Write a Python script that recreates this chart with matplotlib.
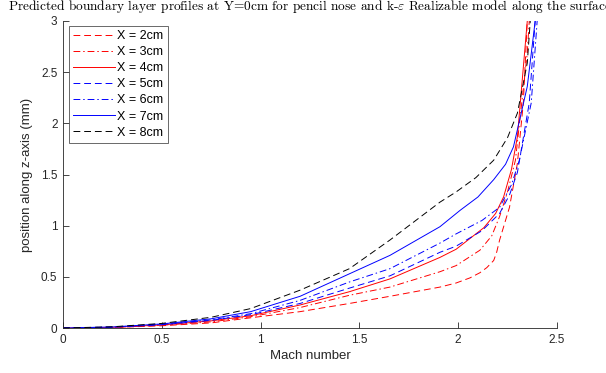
import matplotlib
matplotlib.use('Agg')
import matplotlib.pyplot as plt

plt.rcParams['font.family'] = ['Liberation Sans', 'DejaVu Sans']
plt.rcParams['mathtext.fontset'] = 'cm'

# Mach number / height pairs for each station along the surface
mach_2 = [0, 0.25, 0.5, 0.75, 0.95, 1.2, 1.45, 1.655, 1.908, 1.99, 2.06, 2.11, 2.145, 2.18, 2.195, 2.21, 2.26, 2.30, 2.33, 2.35]
z_2 = [0, 0.005, 0.022, 0.05, 0.10, 0.16, 0.24, 0.31, 0.40, 0.44, 0.49, 0.54, 0.59, 0.66, 0.74, 0.86, 1.18, 1.61, 2.2, 3.0]

mach_3 = [0, 0.25, 0.5, 0.75, 0.95, 1.2, 1.45, 1.655, 1.908, 1.99, 2.11, 2.17, 2.21, 2.25, 2.29, 2.35, 2.36]
z_3 = [0, 0.006, 0.027, 0.06, 0.11, 0.20, 0.32, 0.40, 0.55, 0.61, 0.76, 0.90, 1.09, 1.33, 1.64, 2.69, 3.0]

mach_4 = [0, 0.25, 0.5, 0.75, 0.95, 1.2, 1.45, 1.655, 1.908, 1.99, 2.13, 2.19, 2.23, 2.27, 2.30, 2.35]
z_4 = [0, 0.007, 0.03, 0.07, 0.12, 0.225, 0.355, 0.48, 0.69, 0.77, 0.98, 1.12, 1.28, 1.55, 1.87, 3.0]

mach_5 = [0, 0.25, 0.5, 0.75, 0.95, 1.2, 1.45, 1.655, 1.908, 1.99, 2.12, 2.21, 2.26, 2.30, 2.36, 2.39]
z_5 = [0, 0.008, 0.032, 0.075, 0.13, 0.24, 0.39, 0.51, 0.74, 0.80, 0.95, 1.12, 1.30, 1.52, 2.2, 3.0]

mach_6 = [0, 0.25, 0.5, 0.75, 0.95, 1.2, 1.45, 1.655, 1.908, 1.99, 2.12, 2.21, 2.27, 2.31, 2.37, 2.40]
z_6 = [0, 0.009, 0.035, 0.08, 0.14, 0.27, 0.45, 0.58, 0.83, 0.92, 1.05, 1.18, 1.40, 1.64, 2.2, 3.0]

mach_7 = [0, 0.25, 0.5, 0.75, 0.95, 1.2, 1.45, 1.655, 1.908, 2.01, 2.10, 2.18, 2.24, 2.28, 2.35, 2.39]
z_7 = [0, 0.01, 0.04, 0.09, 0.16, 0.31, 0.53, 0.71, 0.99, 1.15, 1.28, 1.45, 1.60, 1.77, 2.36, 3.0]

mach_8 = [0, 0.25, 0.5, 0.75, 0.95, 1.2, 1.45, 1.655, 1.908, 1.99, 2.09, 2.18, 2.25, 2.30, 2.35, 2.365]
z_8 = [0, 0.012, 0.045, 0.105, 0.19, 0.37, 0.58, 0.86, 1.23, 1.33, 1.47, 1.64, 1.86, 2.10, 2.59, 3.0]

labels = ['X = 2cm', 'X = 3cm', 'X = 4cm', 'X = 5cm', 'X = 6cm', 'X = 7cm', 'X = 8cm']

dash = (0, (7, 4))
dashdot = (0, (7, 3, 1.5, 3))
series = [(mach_2, z_2, 'r', dash),
          (mach_3, z_3, 'r', dashdot),
          (mach_4, z_4, 'r', '-'),
          (mach_5, z_5, 'b', dash),
          (mach_6, z_6, 'b', dashdot),
          (mach_7, z_7, 'b', '-'),
          (mach_8, z_8, 'k', dash)]

fig = plt.figure(figsize=(6.06, 3.73), dpi=100)
ax = fig.add_axes([0.104, 0.1206, 0.815, 0.8231])

for (m, z, c, ls), lab in zip(series, labels):
    ax.plot(m, z, color=c, linestyle=ls, linewidth=0.7, label=lab)

ax.set_xlim(0, 2.5)
ax.set_ylim(0, 3)
ax.set_xticks([0, 0.5, 1, 1.5, 2, 2.5])
ax.set_xticklabels(['0', '0.5', '1', '1.5', '2', '2.5'])
ax.set_yticks([0, 0.5, 1, 1.5, 2, 2.5, 3])
ax.set_yticklabels(['0', '0.5', '1', '1.5', '2', '2.5', '3'])

gray = '0.15'
for s in ['top', 'right']:
    ax.spines[s].set_visible(False)
for s in ['left', 'bottom']:
    ax.spines[s].set_color(gray)
    ax.spines[s].set_linewidth(0.6)
ax.tick_params(direction='in', length=4, width=0.6, colors=gray, labelsize=8.5, pad=4)

ax.set_xlabel('Mach number', fontsize=9.5, color=gray, labelpad=3)
ax.set_ylabel('position along z-axis (mm)', fontsize=9.5, color=gray, labelpad=6)
ax.set_title(r'Predicted boundary layer profiles at Y=0cm for pencil nose and k-$\varepsilon$ Realizable model along the surface',
             fontsize=9.6, family='cmr10', pad=8)

leg = ax.legend(loc='upper left', bbox_to_anchor=(0.012, 0.985), fontsize=9,
                frameon=True, fancybox=False, borderpad=0.35, labelspacing=0.33,
                handlelength=3.3, handletextpad=0.2, borderaxespad=0)
leg.get_frame().set_edgecolor(gray)
leg.get_frame().set_linewidth(0.6)

plt.savefig('out.png', dpi=100)
